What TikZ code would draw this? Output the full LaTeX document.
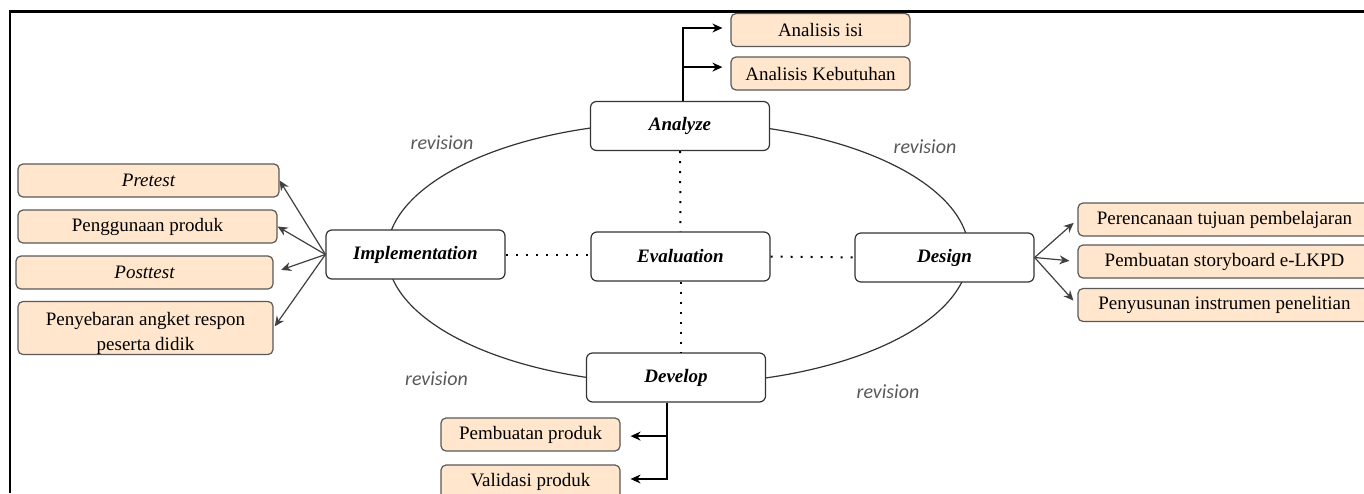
\documentclass[tikz,border=0pt]{standalone}
\usepackage{fontspec}
\setmainfont{Liberation Serif}
\newfontfamily\revfont{Carlito}
\usetikzlibrary{arrows.meta}
\tikzset{>={Stealth[width=4.5pt,length=5pt]}}
\definecolor{peach}{HTML}{FFE6CC}
\tikzset{
  stage/.style={draw=black!80, line width=0.6pt, fill=white, rounded corners=3pt,
    minimum width=89.5pt, minimum height=24.5pt, inner sep=0pt,
    font=\fontsize{9.5}{11}\selectfont\bfseries\itshape},
  task/.style={draw=black!65, line width=0.6pt, fill=peach, rounded corners=2.5pt,
    minimum height=16.5pt, inner sep=0pt, font=\fontsize{9.5}{11}\selectfont},
  revision/.style={text=black!65, font=\fontsize{10}{12}\selectfont\revfont\itshape},
  dots/.style={line width=1pt, dash pattern=on 1pt off 4pt},
  link/.style={->, draw=black!75, line width=0.6pt},
  branch/.style={->, draw=black, line width=0.7pt},
}
\begin{document}
\begin{tikzpicture}[x=0.5pt, y=-0.5pt]
  \useasboundingbox (0,0) rectangle (1364,493);
  \draw[line width=1.2pt] (10,493) -- (10,11.5) -- (1364,11.5);
  \draw[black!80, line width=0.6pt] (678,253) ellipse [x radius=291, y radius=131];

  \node[stage] (ANALYZE) at (680,126) {Analyze};
  \node[stage] (IMPL) at (415.5,254.5) {Implementation};
  \node[stage] (EVAL) at (680.5,256.5) {Evaluation};
  \node[stage] (DESIGN) at (944.5,257.5) {Design};
  \node[stage] (DEVELOP) at (676,377.5) {Develop};

  \node[task, minimum width=89.5pt] (ISI) at (820.5,30) {Analisis isi};
  \node[task, minimum width=89.5pt] (KEB) at (820.5,73.5) {Analisis Kebutuhan};

  \node[task, minimum width=130.5pt] (PRE) at (148.5,180.5) {\itshape Pretest};
  \node[task, minimum width=129.5pt] (PENG) at (147.5,226.5) {Penggunaan produk};
  \node[task, minimum width=128.5pt] (POST) at (144.5,272.5) {\itshape Posttest};
  \node[task, minimum width=127.5pt, minimum height=25pt, align=center,
    font=\fontsize{9.5}{12.5}\selectfont] (SEBAR) at (145.5,328)
    {\rule{0pt}{12pt}Penyebaran angket respon\\peserta didik};

  \node[task, minimum width=146.5pt] (TUJUAN) at (1224.5,219.5) {Perencanaan tujuan pembelajaran};
  \node[task, minimum width=146.5pt] (STORY) at (1224.5,261.5) {Pembuatan storyboard e-LKPD};
  \node[task, minimum width=146.5pt] (INSTR) at (1224.5,305) {Penyusunan instrumen penelitian};

  \node[task, minimum width=89.5pt] (PRODUK) at (530.5,434.5) {Pembuatan produk};
  \node[task, minimum width=89.5pt, minimum height=17pt] (VALID) at (530.5,482) {Validasi produk};

  \node[revision] (REVA) at (442,143) {revision};
  \node[revision] (REVB) at (925,147) {revision};
  \node[revision] (REVC) at (436.5,379) {revision};
  \node[revision] (REVD) at (888,392) {revision};

  \draw[dots] (ANALYZE.south) -- (EVAL.north);
  \draw[dots] (EVAL.south) -- (EVAL.south |- DEVELOP.north);
  \draw[dots] (IMPL.east) -- (IMPL.east -| EVAL.west);
  \draw[dots] (EVAL.east) -- (DESIGN.west);

  \draw[branch, shorten >=4pt] ([xshift=1.5pt]ANALYZE.north) |- ([yshift=1pt]ISI.west);
  \draw[branch, shorten >=4pt] ([xshift=1.5pt]ANALYZE.north) |- ([yshift=3.2pt]KEB.west);

  \draw[branch, shorten >=5pt] ([xshift=-4.5pt]DEVELOP.south) |- ([yshift=-0.8pt]PRODUK.east);
  \draw[branch, shorten >=5pt] ([xshift=-4.5pt]DEVELOP.south) |- ([yshift=1.5pt]VALID.east);

  \draw[link] (IMPL.west) -- (PRE.east);
  \draw[link] (IMPL.west) -- (PENG.east);
  \draw[link, shorten >=4pt] (IMPL.west) -- (POST.east);
  \draw[link, shorten >=1pt] (IMPL.west) -- (SEBAR.east);

  \draw[link, shorten >=2.5pt] (DESIGN.east) -- (TUJUAN.west);
  \draw[link, shorten >=4pt] (DESIGN.east) -- (STORY.west);
  \draw[link, shorten >=3pt] (DESIGN.east) -- (INSTR.west);
\end{tikzpicture}
\end{document}
